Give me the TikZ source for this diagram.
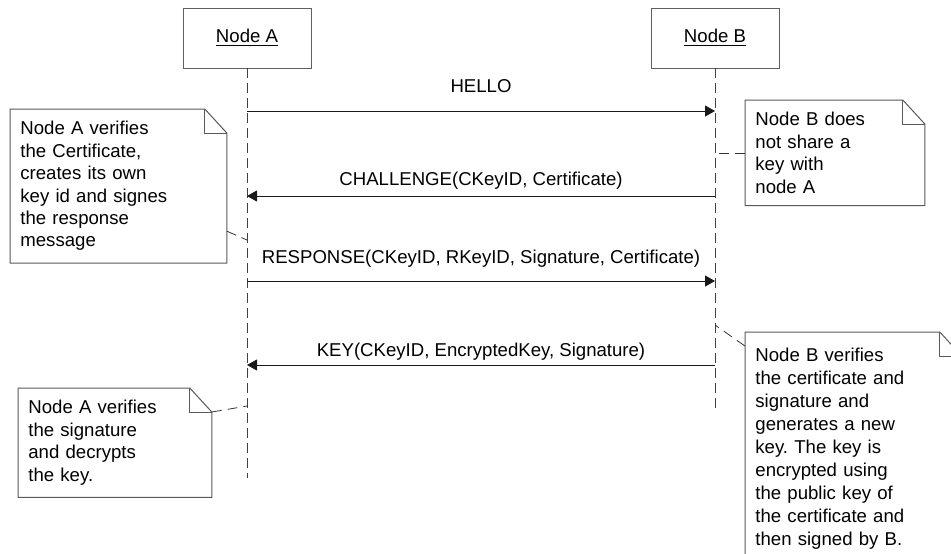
\documentclass[tikz,border=0pt]{standalone}
\usepackage{fontspec}
\setmainfont{Liberation Sans}
\usetikzlibrary{arrows.meta,positioning,calc}
\frenchspacing

\newcommand{\msgfont}{\fontsize{9.3}{11.2}\selectfont}
% note outline with a folded corner
\newcommand{\dogear}[1]{%
  \draw[noteline] (#1.north west) -- ([xshift=-11pt]#1.north east)
    -- ([yshift=-12pt]#1.north east) -- (#1.south east) -- (#1.south west) -- cycle;
  \draw[noteline] ([xshift=-11pt]#1.north east) |- ([yshift=-12pt]#1.north east);}

\begin{document}
\begin{tikzpicture}[
  x=0.5pt, y=-0.5pt,
  head/.style={rectangle, draw=gray!75!black, minimum width=64pt, minimum height=30pt,
    font=\msgfont},
  lifeline/.style={draw=black!75, dash pattern=on 5pt off 2.5pt},
  msg/.style={-{Triangle[length=5pt, width=5.5pt]}, draw=black!90, line width=0.5pt},
  msglabel/.style={anchor=base, font=\msgfont, inner sep=0pt},
  notebox/.style={anchor=north west, align=left, inner xsep=5pt, inner ysep=6pt,
    font=\msgfont},
  noteline/.style={draw=gray!70!black, line width=0.5pt},
  notelink/.style={draw=black!80, dash pattern=on 5pt off 3pt}
]
  \useasboundingbox (0,0) rectangle (951,553);

  \node[head] (nodeA) at (247,38) {\underline{Node A}};
  \node[head] (nodeB) at (715,38) {\underline{Node B}};
  \coordinate (endA) at (247,478);
  \coordinate (endB) at (715,410);

  \draw[lifeline] (nodeA.south) -- (endA);
  \draw[lifeline] (nodeB.south) -- (endB);

  \draw[msg] (nodeA.south |- 0,111) -- (nodeB.south |- 0,111)
    node[msglabel, midway, yshift=9.5pt] {HELLO};
  \draw[msg] (nodeB.south |- 0,196) -- (nodeA.south |- 0,196)
    node[msglabel, midway, yshift=5.5pt] {CHALLENGE(CKeyID, Certificate)};
  \draw[msg] (nodeA.south |- 0,281) -- (nodeB.south |- 0,281)
    node[msglabel, midway, yshift=9pt] {RESPONSE(CKeyID, RKeyID, Signature, Certificate)};
  \draw[msg] (nodeB.south |- 0,365) -- (nodeA.south |- 0,365)
    node[msglabel, midway, yshift=4.5pt] {KEY(CKeyID, EncryptedKey, Signature)};

  \node[notebox, text width=98pt] (noteA1) at (10,109)
    {Node A verifies\\the Certificate,\\creates its own\\key id and signes\\the response\\message};
  \node[notebox, text width=79.5pt] (noteB1) at (745,100)
    {Node B does\\not share a\\key with\\node A};
  \node[notebox, text width=86.5pt] (noteA2) at (18,388)
    {Node A verifies\\the signature\\and decrypts\\the key.};
  \node[notebox, text width=98pt, font=\fontsize{9.3}{11.5}\selectfont,
    inner ysep=8pt] (noteB2) at (745,332)
    {Node B verifies\\the certificate and\\signature and\\generates a new\\key. The key is\\encrypted using\\the public key of\\the certificate and\\then signed by B.};
  \dogear{noteA1}
  \dogear{noteB1}
  \dogear{noteA2}
  \dogear{noteB2}

  \draw[notelink] ([yshift=16pt]noteA1.south east) -- (nodeA.south |- 0,240);
  \draw[notelink] (noteB1.west |- 0,153) -- (nodeB.south |- 0,153);
  \draw[notelink] ([yshift=-12pt]noteA2.north east) -- (nodeA.south |- 0,406);
  \draw[notelink] ([yshift=-7pt]noteB2.north west) -- (nodeB.south |- 0,325);
\end{tikzpicture}
\end{document}
